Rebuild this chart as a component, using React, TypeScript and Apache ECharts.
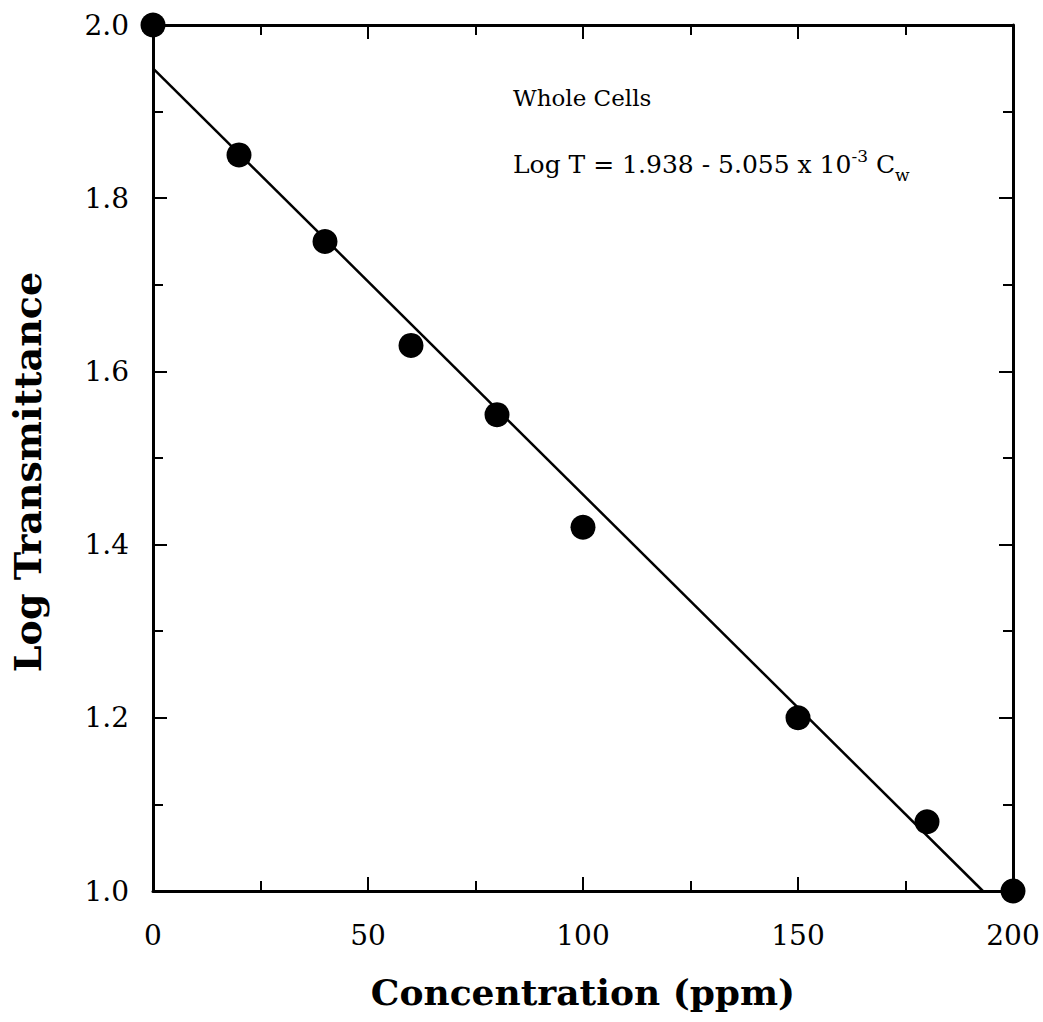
import React, { useEffect, useRef } from "react";
import * as echarts from "echarts";

const concentration = [0, 20, 40, 60, 80, 100, 150, 180, 200];
const logT = [2.0, 1.85, 1.75, 1.63, 1.55, 1.42, 1.2, 1.08, 1.0];
const fitLine = [
  [0, 1.95],
  [193, 1.0],
];
const xTitle = "Concentration (ppm)";
const yTitle = "Log Transmittance";
const noteTitle = "Whole Cells";

const FONT = "DejaVu Serif";

export default function App() {
  const ref = useRef<HTMLDivElement>(null);
  useEffect(() => {
    document.body.style.margin = "0";
    document.body.style.overflow = "hidden";
    if (!ref.current) return;
    const chart = echarts.init(ref.current, null, { renderer: "svg" });
    const axisLine = { show: true, onZero: false, lineStyle: { color: "#000", width: 3 } };
    const axisTick = { show: true, inside: true, length: 14, lineStyle: { color: "#000", width: 2 } };
    const minorTick = { show: true, splitNumber: 2, length: 10, lineStyle: { color: "#000", width: 2 } };
    const labelStyle = { color: "#000", fontFamily: FONT, fontSize: 28 };
    chart.setOption({
      animation: false,
      backgroundColor: "#fff",
      grid: { left: 152, right: 30, top: 25, bottom: 131 },
      xAxis: [
        {
          type: "value", min: 0, max: 200, interval: 50, position: "bottom",
          axisLine, axisTick, minorTick, splitLine: { show: false }, minorSplitLine: { show: false },
          axisLabel: { ...labelStyle, margin: 30 },
          name: xTitle, nameLocation: "middle", nameGap: 83,
          nameTextStyle: { color: "#000", fontFamily: FONT, fontSize: 36, fontWeight: "bold" },
        },
        {
          type: "value", min: 0, max: 200, interval: 50, position: "top",
          axisLine, axisTick, minorTick, splitLine: { show: false }, minorSplitLine: { show: false },
          axisLabel: { show: false },
        },
      ],
      yAxis: [
        {
          type: "value", min: 1, max: 2, interval: 0.2, position: "left",
          axisLine, axisTick, minorTick, splitLine: { show: false }, minorSplitLine: { show: false },
          axisLabel: { ...labelStyle, margin: 24, formatter: (v: number) => v.toFixed(1) },
          name: yTitle, nameLocation: "middle", nameGap: 107,
          nameTextStyle: {
            color: "#000", fontFamily: FONT, fontSize: 38, fontWeight: "bold",
            padding: [0, 28, 0, 0],
          },
        },
        {
          type: "value", min: 1, max: 2, interval: 0.2, position: "right",
          axisLine, axisTick, minorTick, splitLine: { show: false }, minorSplitLine: { show: false },
          axisLabel: { show: false },
        },
      ],
      series: [
        {
          type: "line", data: fitLine, showSymbol: false, symbol: "none",
          lineStyle: { color: "#000", width: 2.5 }, z: 2,
        },
        {
          type: "scatter", data: concentration.map((c, i) => [c, logT[i]]),
          symbol: "circle", symbolSize: 25, itemStyle: { color: "#000", opacity: 1 }, clip: false, z: 3,
        },
      ],
      graphic: [
        {
          type: "text", left: 513, top: 86,
          style: { text: noteTitle, fontFamily: FONT, fontSize: 23, fill: "#000" },
        },
        {
          type: "text", left: 513, top: 145,
          style: {
            text: "{a|Log T = 1.938 - 5.055 x 10}{sup|-3}{a| C}{sub|w}",
            fill: "#000",
            rich: {
              a: { fontFamily: FONT, fontSize: 25, lineHeight: 38, verticalAlign: "middle", fill: "#000" },
              sup: { fontFamily: FONT, fontSize: 17, lineHeight: 17, verticalAlign: "top", fill: "#000", padding: [2, 0, 0, 0] },
              sub: { fontFamily: FONT, fontSize: 17, lineHeight: 17, verticalAlign: "bottom", fill: "#000" },
            },
          },
        },
      ],
    });
    return () => chart.dispose();
  }, []);
  return <div ref={ref} style={{ width: 1043, height: 1022 }} />;
}
